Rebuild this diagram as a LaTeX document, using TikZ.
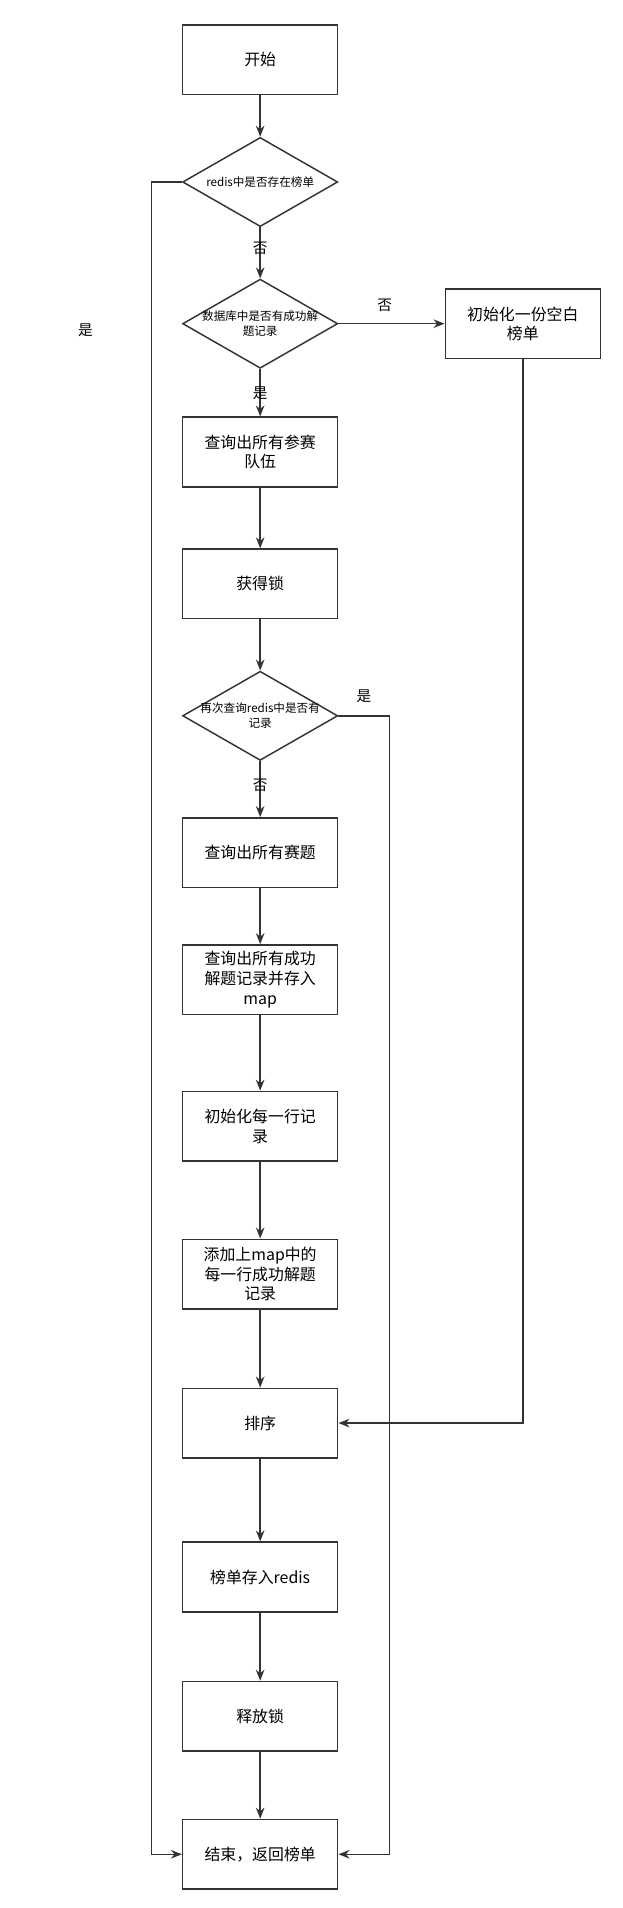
\documentclass[tikz,border=0pt]{standalone}
\usepackage{fontspec}
\setmainfont{Noto Sans CJK SC}
\usetikzlibrary{shapes.geometric,arrows.meta}
\definecolor{ln}{HTML}{333333}
\begin{document}
\begin{tikzpicture}[x=1pt,y=-1pt,
  box/.style={draw=ln,line width=1.2pt,minimum width=127pt,minimum height=57pt,align=center,text width=100pt,font=\fontsize{13}{16}\selectfont,inner sep=0pt},
  dia/.style={draw=ln,line width=1.2pt,diamond,minimum width=127pt,minimum height=73pt,inner sep=0pt},
  dtxt/.style={align=center,font=\fontsize{9.5}{12}\selectfont,text width=118pt},
  lab/.style={font=\fontsize{12}{14}\selectfont},
  arr/.style={draw=ln,line width=1.2pt,-{Stealth[length=9pt,width=7pt]}},
  ln/.style={draw=ln,line width=1.2pt}]
\useasboundingbox (0,0) rectangle (510,1562);
\node[box] (start) at (213,49) {开始};
\node[dia] (d1) at (213,149) {};
\node[dtxt] (t1) at (213,149) {redis中是否存在榜单};
\node[dia] (d2) at (213,265) {};
\node[dtxt] (t2) at (213,265) {数据库中是否有成功解\\题记录};
\node[box] (init) at (428,265) {初始化一份空白\\榜单};
\node[box] (teams) at (213,370) {查询出所有参赛\\队伍};
\node[box] (lock) at (213,478) {获得锁};
\node[dia] (d3) at (213,586) {};
\node[dtxt] (t3) at (213,586) {再次查询redis中是否有\\记录};
\node[box] (probs) at (213,698) {查询出所有赛题};
\node[box] (recs) at (213,802) {查询出所有成功\\解题记录并存入\\map};
\node[box] (rows) at (213,922) {初始化每一行记\\录};
\node[box] (add) at (213,1043) {添加上map中的\\每一行成功解题\\记录};
\node[box] (sort) at (213,1165) {排序};
\node[box] (save) at (213,1291) {榜单存入redis};
\node[box] (rel) at (213,1405) {释放锁};
\node[box] (end) at (213,1518) {结束，返回榜单};
\draw[arr] (start) -- (d1);
\draw[arr] (d1) -- (d2);
\draw[arr] (d2) -- (teams);
\draw[arr] (d2) -- (init);
\draw[arr] (teams) -- (lock);
\draw[arr] (lock) -- (d3);
\draw[arr] (d3) -- (probs);
\draw[arr] (probs) -- (recs);
\draw[arr] (recs) -- (rows);
\draw[arr] (rows) -- (add);
\draw[arr] (add) -- (sort);
\draw[arr] (sort) -- (save);
\draw[arr] (save) -- (rel);
\draw[arr] (rel) -- (end);
\draw[arr] (d1.west) -- (124,149) -- (124,1518) -- (end.west);
\draw[arr] (d3.east) -- (319,586) -- (319,1518) -- (end.east);
\draw[arr] (init.south) -- (428,1165) -- (sort.east);
\node[lab] (l1) at (70,270) {是};
\node[lab] (l2) at (213,203) {否};
\node[lab] (l3) at (315,250) {否};
\node[lab] (l4) at (213,322) {是};
\node[lab] (l5) at (298,570) {是};
\node[lab] (l6) at (213,643) {否};
\end{tikzpicture}
\end{document}
